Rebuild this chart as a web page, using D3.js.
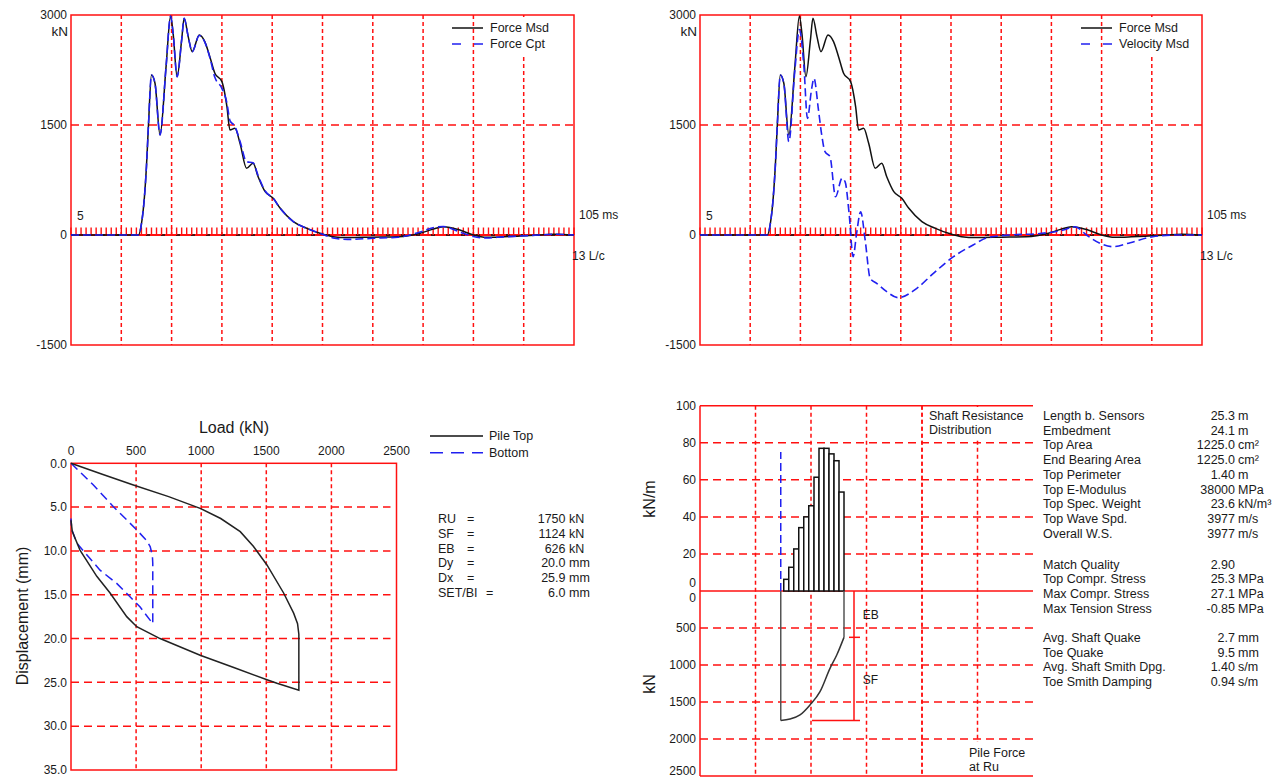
<!DOCTYPE html>
<html><head><meta charset="utf-8">
<script src="https://cdn.jsdelivr.net/npm/d3@7"></script>
<style>
body{margin:0;background:#fff;}
svg{display:block;font-family:"Liberation Sans",Arial,sans-serif;}
</style>
</head><body>
<svg id="c" width="1281" height="778"></svg>
<script>
// ---------- DATA ----------
// Top charts: time (ms) and force traces (kN)
const timeForce = [5, 18.4, 19.0, 19.6, 20.0, 20.4, 21.0, 21.7, 22.7, 23.9, 24.8, 25.3, 26.1, 27.0, 27.5, 28.3, 29.1, 30.5, 31.6, 32.6, 33.6, 35.0, 36.0, 36.6, 37.6, 38.6, 39.9, 41.2, 42.2, 43.6, 45.2, 46.6, 49.2, 51.9, 54.5, 57.1, 60, 65, 70, 74.4, 77, 79.0, 82.3, 85, 87.6, 91, 94.3, 98, 101, 105];
const forceMsd = [0, 0, 150, 520, 932, 1500, 2182, 2069, 1364, 2296, 2987, 2750, 2159, 2660, 2955, 2705, 2500, 2728, 2637, 2432, 2205, 2091, 1750, 1432, 1455, 1251, 910, 978, 795, 591, 500, 364, 182, 91, 23, -23, -35, -30, -25, 23, 80, 113, 68, 0, -32, -25, -14, 0, 10, 0];
const forceCpt = [0, 0, 150, 520, 932, 1500, 2182, 2069, 1364, 2296, 2987, 2750, 2159, 2660, 2955, 2705, 2500, 2720, 2630, 2420, 2150, 2000, 1800, 1560, 1480, 1280, 1000, 985, 810, 600, 500, 364, 182, 91, 23, -40, -60, -45, -30, 40, 100, 115, 40, -20, -40, -25, -14, 0, 10, 0];
const timeVel = [5, 18.4, 19.0, 19.6, 20.0, 20.4, 21.0, 21.7, 22.7, 23.9, 24.8, 25.7, 26.4, 27.25, 27.7, 28.6, 29.2, 29.9, 30.9, 32.0, 33.3, 33.9, 34.7, 35.5, 36.2, 37.0, 37.9, 38.9, 40.2, 42.2, 44.5, 48.2, 51.5, 55.5, 59.4, 62.4, 66.8, 72.7, 77.4, 79.7, 82.0, 84.7, 87.3, 90.7, 95.2, 100, 105];
const velocityMsd = [0, 0, 150, 520, 932, 1500, 2182, 2069, 1273, 2250, 2800, 2296, 1591, 2000, 2137, 1705, 1387, 1136, 1068, 523, 773, 727, 296, -296, 23, 318, -68, -591, -659, -773, -855, -727, -523, -296, -136, -32, 0, 20, 68, 113, 0, -114, -159, -105, -23, 0, 0];
const topYTicks = [3000, 1500, 0, -1500];

// Bottom-left: load (kN) vs displacement (mm)
const pileTopLoad = [0, 240, 479, 750, 992, 1150, 1300, 1402, 1505, 1633, 1710, 1740, 1750, 1750, 1582, 1505, 1250, 992, 684, 505, 428, 300, 198, 69, 10, 0];
const pileTopDisp = [0, 1.25, 2.48, 3.8, 5.14, 6.3, 7.8, 9.5, 11.6, 14.8, 17.1, 18.3, 19.5, 25.9, 25.1, 24.7, 23.3, 21.9, 20.0, 18.65, 17.5, 14.8, 12.9, 9.9, 7.8, 6.5];
const bottomLoad = [0, 172, 326, 505, 580, 608, 625, 628, 628, 531, 351, 223, 44, 5, 0];
const bottomDisp = [0, 2.48, 4.95, 7.6, 8.8, 9.5, 10.5, 11.4, 18.3, 16.4, 13.7, 12.2, 9.1, 7.5, 6.3];
const loadTicks = [0, 500, 1000, 1500, 2000, 2500];
const dispTicks = [0, 5, 10, 15, 20, 25, 30, 35];
const paramNames = ["RU", "SF", "EB", "Dy", "Dx", "SET/BI"];
const paramValues = ["1750", "1124", "626", "20.0", "25.9", "6.0"];
const paramUnits = ["kN", "kN", "kN", "mm", "mm", "mm"];

// Bottom-right: shaft resistance distribution (depth m, kN/m) and pile force at Ru (kN)
const segmentEdges = [1.2, 3.2, 5.2, 7.2, 9.2, 11.2, 13.3, 15.3, 17.3, 19.3, 21.3, 23.3, 25.3];
const shaftResistance = [6.3, 12.8, 22.7, 34.2, 40, 46, 61.4, 77, 77, 74, 70.3, 53.4];
const forceDepth = [0, 3.7, 7.7, 11.7, 15.7, 19.7, 22.4, 25.3];
const pileForce = [1750, 1730, 1675, 1540, 1360, 1045, 865, 626];
const sensorMarker = 75;
const resTicks = [100, 80, 60, 40, 20, 0];
const forceTicks = [0, 500, 1000, 1500, 2000, 2500];
const ruValue = 1750, ebValue = 626;

const infoGroups = [
  [["Length b. Sensors","25.3","m"],["Embedment","24.1","m"],["Top Area","1225.0","cm²"],["End Bearing Area","1225.0","cm²"],["Top Perimeter","1.40","m"],["Top E-Modulus","38000","MPa"],["Top Spec. Weight","23.6","kN/m³"],["Top Wave Spd.","3977","m/s"],["Overall W.S.","3977","m/s"]],
  [["Match Quality","2.90",""],["Top Compr. Stress","25.3","MPa"],["Max Compr. Stress","27.1","MPa"],["Max Tension Stress","-0.85","MPa"]],
  [["Avg. Shaft Quake","2.7","mm"],["Toe Quake","9.5","mm"],["Avg. Shaft Smith Dpg.","1.40","s/m"],["Toe Smith Damping","0.94","s/m"]]
];

// ---------- STYLE ----------
const RED = "#ff1010", BLUE = "#2020f0", BLACK = "#111", TXT = "#1a1a1a";
const svg = d3.select("#c");

function txt(g, x, y, s, size, anchor) {
  return g.append("text").attr("x", x).attr("y", y).attr("dy", "0.35em")
    .attr("font-size", size).attr("fill", TXT).attr("text-anchor", anchor || "start").text(s);
}
function hline(g, x1, x2, y, dash, w) {
  return g.append("line").attr("x1", x1).attr("x2", x2).attr("y1", y).attr("y2", y)
    .attr("stroke", RED).attr("stroke-width", w || 1.5).attr("stroke-dasharray", dash || null);
}
function vline(g, x, y1, y2, dash, w) {
  return g.append("line").attr("x1", x).attr("x2", x).attr("y1", y1).attr("y2", y2)
    .attr("stroke", RED).attr("stroke-width", w || 1.5).attr("stroke-dasharray", dash || null);
}

// ---------- TOP CHARTS ----------
function topChart(x0, x1, s2, s2name, t2) {
  const x = d3.scaleLinear().domain([5, 105]).range([x0, x1]);
  const y = d3.scaleLinear().domain([-1500, 3000]).range([345, 15]);
  const g = svg.append("g");
  g.selectAll(null).data(d3.range(15, 100, 10)).join("line")
    .attr("x1", d => x(d)).attr("x2", d => x(d)).attr("y1", y(3000)).attr("y2", y(-1500))
    .attr("stroke", RED).attr("stroke-width", 1.5).attr("stroke-dasharray", "4,3");
  hline(g, x0, x1, y(1500), "8,5");
  // legend background
  g.append("rect").attr("x", x0 + 416).attr("y", 17).attr("width", 78).attr("height", 37).attr("fill", "#fff");
  g.append("rect").attr("x", x0).attr("y", y(3000)).attr("width", x1 - x0).attr("height", y(-1500) - y(3000))
    .attr("fill", "none").attr("stroke", RED).attr("stroke-width", 1.5);
  hline(g, x0, x1, y(0), null, 2);
  g.append("line").attr("x1", x0).attr("x2", x1).attr("y1", y(0)).attr("y2", y(0))
    .attr("stroke", BLACK).attr("stroke-width", 1.5).attr("stroke-dasharray", "4,11");
  g.selectAll(null).data(d3.range(5, 106, 1)).join("line")
    .attr("x1", d => x(d)).attr("x2", d => x(d)).attr("y1", y(0)).attr("y2", y(0) - 7.5)
    .attr("stroke", RED).attr("stroke-width", 1.4);
  const l1 = d3.line().x((d, i) => x(timeForce[i])).y(d => y(d)).curve(d3.curveMonotoneX);
  const l2 = d3.line().x((d, i) => x(t2[i])).y(d => y(d)).curve(d3.curveMonotoneX);
  g.append("path").attr("d", l1(forceMsd)).attr("fill", "none").attr("stroke", BLACK).attr("stroke-width", 1.5);
  g.append("path").attr("d", l2(s2)).attr("fill", "none").attr("stroke", BLUE).attr("stroke-width", 1.6).attr("stroke-dasharray", "8,4");
  // legend
  const lx = x0 + 381;
  g.append("line").attr("x1", lx).attr("x2", lx + 31).attr("y1", 28).attr("y2", 28).attr("stroke", BLACK).attr("stroke-width", 1.5);
  g.append("line").attr("x1", lx).attr("x2", lx + 31).attr("y1", 44).attr("y2", 44).attr("stroke", BLUE).attr("stroke-width", 1.5).attr("stroke-dasharray", "9,13");
  txt(g, lx + 38, 28, "Force Msd", 12.5);
  txt(g, lx + 38, 44, s2name, 12.5);
  // axis labels
  topYTicks.forEach(v => txt(g, x0 - 4, y(v), String(v), 12, "end"));
  txt(g, x0 - 3, 31, "kN", 13.5, "end");
  txt(g, x0 + 6, 216, "5", 12);
  txt(g, x1 + 5, 215, "105 ms", 12);
  txt(g, x1 - 2, 256, "13 L/c", 12);
}
topChart(71, 574, forceCpt, "Force Cpt", timeForce);
topChart(700, 1202, velocityMsd, "Velocity Msd", timeVel);

// ---------- BOTTOM LEFT ----------
(function () {
  const x = d3.scaleLinear().domain([0, 2500]).range([71, 396.5]);
  const y = d3.scaleLinear().domain([0, 35]).range([463.3, 770]);
  const g = svg.append("g");
  g.selectAll(null).data(loadTicks.slice(1, -1)).join("line")
    .attr("x1", d => x(d)).attr("x2", d => x(d)).attr("y1", y(0)).attr("y2", y(35))
    .attr("stroke", RED).attr("stroke-width", 1.5).attr("stroke-dasharray", "4,3");
  g.selectAll(null).data(dispTicks.slice(1, -1)).join("line")
    .attr("x1", x(0)).attr("x2", x(2500) - 6).attr("y1", d => y(d)).attr("y2", d => y(d))
    .attr("stroke", RED).attr("stroke-width", 1.5).attr("stroke-dasharray", "8,5");
  g.append("rect").attr("x", x(0)).attr("y", y(0)).attr("width", x(2500) - x(0)).attr("height", y(35) - y(0))
    .attr("fill", "none").attr("stroke", RED).attr("stroke-width", 1.5);
  const lt = d3.line().x((d, i) => x(pileTopLoad[i])).y(d => y(d));
  const lb = d3.line().x((d, i) => x(bottomLoad[i])).y(d => y(d));
  g.append("path").attr("d", lb(bottomDisp)).attr("fill", "none").attr("stroke", BLUE).attr("stroke-width", 1.5).attr("stroke-dasharray", "9,5");
  g.append("path").attr("d", lt(pileTopDisp)).attr("fill", "none").attr("stroke", "#222").attr("stroke-width", 1.5);
  loadTicks.forEach(v => txt(g, x(v), 451, String(v), 12, "middle"));
  dispTicks.forEach(v => txt(g, 67, Math.min(y(v), 770), v.toFixed(1), 12, "end"));
  txt(g, 234, 427, "Load (kN)", 16, "middle");
  g.append("text").attr("transform", "translate(22,616) rotate(-90)").attr("dy", "0.35em")
    .attr("font-size", 16).attr("fill", TXT).attr("text-anchor", "middle").text("Displacement (mm)");
  // legend
  g.append("line").attr("x1", 430).attr("x2", 483).attr("y1", 436).attr("y2", 436).attr("stroke", BLACK).attr("stroke-width", 1.5);
  g.append("line").attr("x1", 430).attr("x2", 483).attr("y1", 452.7).attr("y2", 452.7).attr("stroke", BLUE).attr("stroke-width", 1.5).attr("stroke-dasharray", "13,8");
  txt(g, 489, 436, "Pile Top", 12.5);
  txt(g, 489, 452.7, "Bottom", 12.5);
  paramNames.forEach((n, i) => {
    const yy = 519 + i * 14.7;
    txt(g, 438, yy, n, 12.5);
    txt(g, n === "SET/BI" ? 486 : 467, yy, "=", 12.5);
    txt(g, 565.5, yy, paramValues[i], 12.5, "end");
    txt(g, 569, yy, paramUnits[i], 12.5);
  });
})();

// ---------- BOTTOM RIGHT ----------
(function () {
  const X0 = 700, X1 = 1033;
  const x = d3.scaleLinear().domain([-32.3, 100.9]).range([X0, X1]);
  const yR = d3.scaleLinear().domain([0, 100]).range([591, 405.7]);
  const yF = d3.scaleLinear().domain([0, 2500]).range([591, 776]);
  const g = svg.append("g");
  const vx = d3.range(1, 6).map(i => X0 + i * (X1 - X0) / 6);
  vx.forEach(v => vline(g, v, yR(100), yF(2500), "4,3"));
  resTicks.slice(1, -1).forEach(v => hline(g, X0, X1, yR(v), "8,5"));
  forceTicks.slice(1, -1).forEach(v => hline(g, X0, X1, yF(v), "8,5"));
  // label backgrounds
  g.append("rect").attr("x", 926).attr("y", 407).attr("width", X1 - 926).attr("height", 33).attr("fill", "#fff");
  g.append("rect").attr("x", 966).attr("y", 742).attr("width", X1 - 966).attr("height", 33).attr("fill", "#fff");
  vline(g, vx[3], yR(100), yF(2500), "4,3");
  hline(g, X0, X1, yR(100));
  hline(g, X0, X1, yF(2500));
  vline(g, X0, yR(100), yF(2500));
  hline(g, X0, X1, yR(0));
  // bars
  g.selectAll(null).data(shaftResistance).join("rect")
    .attr("x", (d, i) => x(segmentEdges[i])).attr("width", (d, i) => x(segmentEdges[i + 1]) - x(segmentEdges[i]))
    .attr("y", d => yR(d)).attr("height", d => yR(0) - yR(d))
    .attr("fill", "#fff").attr("stroke", BLACK).attr("stroke-width", 1.5);
  g.append("line").attr("x1", x(0)).attr("x2", x(0)).attr("y1", yR(0)).attr("y2", yR(sensorMarker))
    .attr("stroke", BLUE).attr("stroke-width", 1.5).attr("stroke-dasharray", "8,4");
  // pile force
  const toe = forceDepth[forceDepth.length - 1];
  const pf = d3.line().x((d, i) => x(forceDepth[i])).y(d => yF(d)).curve(d3.curveMonotoneX);
  g.append("line").attr("x1", x(0)).attr("x2", x(0)).attr("y1", yF(0)).attr("y2", yF(ruValue)).attr("stroke", "#555").attr("stroke-width", 1.5);
  g.append("line").attr("x1", x(toe)).attr("x2", x(toe)).attr("y1", yF(0)).attr("y2", yF(ebValue)).attr("stroke", "#555").attr("stroke-width", 1.5);
  g.append("path").attr("d", pf(pileForce)).attr("fill", "none").attr("stroke", "#333").attr("stroke-width", 1.5);
  // EB / SF bracket
  const bx = x(toe) + 10;
  vline(g, bx, yF(0), yF(ruValue));
  hline(g, bx - 5, bx + 6, yF(ebValue));
  hline(g, x(toe) - 32, bx + 6, yF(ruValue));
  txt(g, 862.7, 615, "EB", 12);
  txt(g, 862.7, 680, "SF", 12);
  txt(g, 929, 415.7, "Shaft Resistance", 12.5);
  txt(g, 929, 429.5, "Distribution", 12.5);
  txt(g, 969, 753, "Pile Force", 12.5);
  txt(g, 969, 767, "at Ru", 12.5);
  // tick labels
  resTicks.forEach(v => txt(g, 696, v === 0 ? yR(0) - 8 : yR(v), String(v), 12, "end"));
  forceTicks.forEach(v => txt(g, 696, v === 0 ? yF(0) + 7 : Math.min(yF(v), 771), String(v), 12, "end"));
  g.append("text").attr("transform", "translate(649,499) rotate(-90)").attr("dy", "0.35em")
    .attr("font-size", 16).attr("fill", TXT).attr("text-anchor", "middle").text("kN/m");
  g.append("text").attr("transform", "translate(649,684) rotate(-90)").attr("dy", "0.35em")
    .attr("font-size", 16).attr("fill", TXT).attr("text-anchor", "middle").text("kN");
  // info table
  const starts = [415.7, 564.3, 637.7];
  infoGroups.forEach((grp, gi) => grp.forEach((r, i) => {
    const yy = starts[gi] + i * 14.7;
    txt(g, 1043, yy, r[0], 12.5);
    txt(g, 1235, yy, r[1], 12.5, "end");
    if (r[2]) txt(g, 1238, yy, r[2], 12.5);
  }));
})();
</script>
</body></html>
